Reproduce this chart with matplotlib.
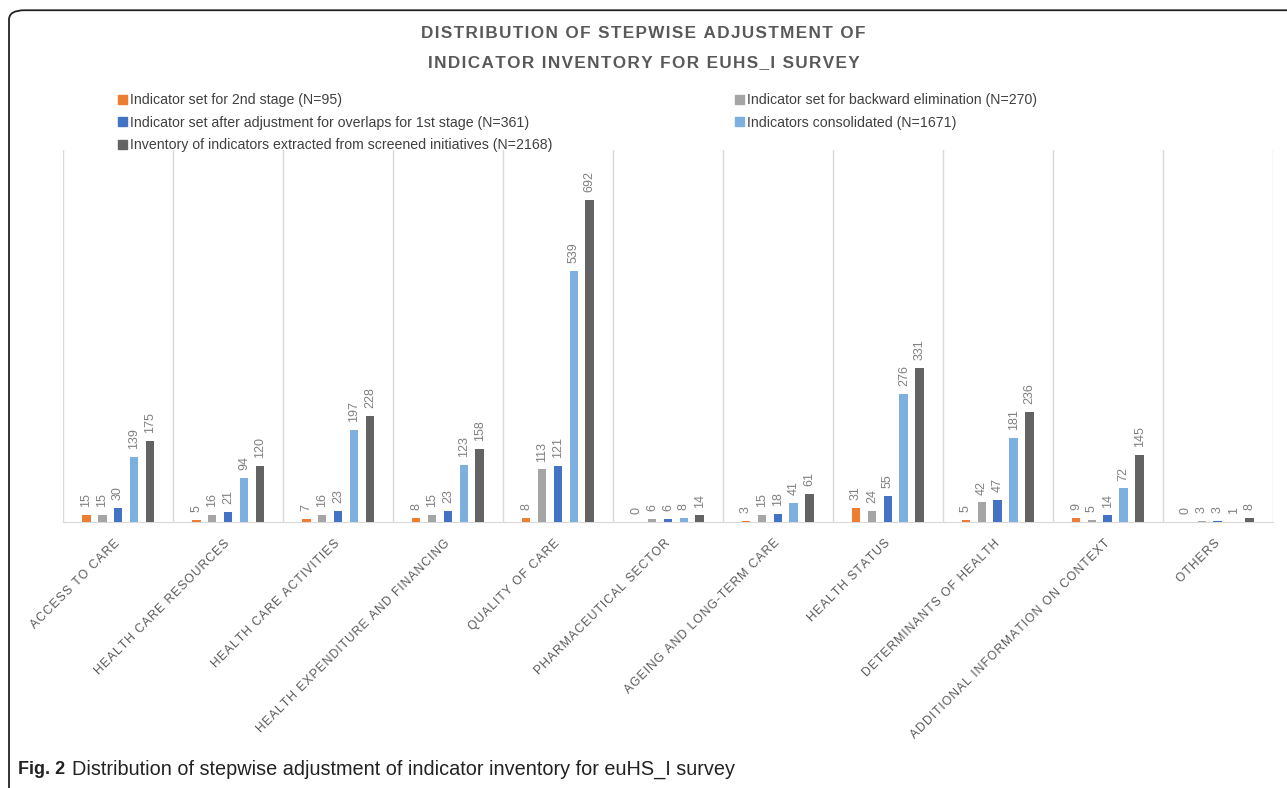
import numpy as np
import matplotlib.pyplot as plt
from matplotlib.patches import FancyBboxPatch, Patch

plt.rcParams['font.family'] = ['Liberation Sans', 'DejaVu Sans']

# data
categories = ['ACCESS TO CARE', 'HEALTH CARE RESOURCES', 'HEALTH CARE ACTIVITIES',
              'HEALTH EXPENDITURE AND FINANCING', 'QUALITY OF CARE', 'PHARMACEUTICAL SECTOR',
              'AGEING AND LONG-TERM CARE', 'HEALTH STATUS', 'DETERMINANTS OF HEALTH',
              'ADDITIONAL INFORMATION ON CONTEXT', 'OTHERS']
stage2 = [15, 5, 7, 8, 8, 0, 3, 31, 5, 9, 0]
backward = [15, 16, 16, 15, 113, 6, 15, 24, 42, 5, 3]
overlaps = [30, 21, 23, 23, 121, 6, 18, 55, 47, 14, 3]
consolidated = [139, 94, 197, 123, 539, 8, 41, 276, 181, 72, 1]
inventory = [175, 120, 228, 158, 692, 14, 61, 331, 236, 145, 8]

series_names = ['Indicator set for 2nd stage (N=95)',
                'Indicator set for backward elimination (N=270)',
                'Indicator set after adjustment for overlaps for 1st stage (N=361)',
                'Indicators consolidated (N=1671)',
                'Inventory of indicators extracted from screened initiatives (N=2168)']
colors = ['#ED7D31', '#A5A5A5', '#4472C4', '#7EB0DF', '#636363']
series = [stage2, backward, overlaps, consolidated, inventory]


def spaced(s):
    # imitate Excel's letter spacing
    return '\u200a'.join(s)


fig = plt.figure(figsize=(12.87, 7.88), dpi=100)
ax = fig.add_axes([0.049, 0.3376, 0.94, 0.472])

x = np.arange(len(categories))
step = 0.145
width = 0.08
for i, (vals, c) in enumerate(zip(series, colors)):
    pos = x + (i - 2) * step
    ax.bar(pos, vals, width=width, color=c, zorder=3)
    for p, v in zip(pos, vals):
        ax.text(p, v + 17, str(v), rotation=90, ha='center', va='bottom',
                fontsize=9, color='#808080')

ax.set_xlim(-0.5, len(categories) - 0.5)
ax.set_ylim(0, 800)
ax.set_yticks([])
ax.set_xticks(x)
ax.set_xticklabels([spaced(c) for c in categories], rotation=45, ha='right',
                   va='center', rotation_mode='anchor', fontsize=8.7, color='#595959')
ax.tick_params(axis='x', length=0, pad=14)
for b in np.arange(-0.5, len(categories) + 0.5, 1.0):
    ax.axvline(b, color='#d9d9d9', lw=1, zorder=1)
for s in ['top', 'right', 'left']:
    ax.spines[s].set_visible(False)
ax.spines['bottom'].set_color('#d9d9d9')

fig.text(0.5, 0.958, spaced('DISTRIBUTION OF STEPWISE ADJUSTMENT OF'), ha='center', va='center',
         fontsize=12.3, fontweight='bold', color='#595959')
fig.text(0.5, 0.921, spaced('INDICATOR INVENTORY FOR EUHS_I SURVEY'), ha='center', va='center',
         fontsize=12.3, fontweight='bold', color='#595959')

order = [0, 2, 4, 1, 3]
handles = [Patch(color=colors[k]) for k in order]
labels = [series_names[k] for k in order]
fig.legend(handles, labels, ncol=2, loc='upper left', bbox_to_anchor=(0.082, 0.898),
           frameon=False, fontsize=10.2, handlelength=0.6, handleheight=0.6,
           handletextpad=0.2, columnspacing=12.95, labelspacing=0.6,
           labelcolor='#404040')

fig.add_artist(FancyBboxPatch((0.007, -0.05), 1.05, 1.037, boxstyle='round,pad=0,rounding_size=0.012',
                              transform=fig.transFigure, fill=False, ec='#222222', lw=1.3))
fig.text(0.014, 0.024, 'Fig. 2', fontsize=13, fontweight='bold', color='#222222', va='center')
fig.text(0.056, 0.024, 'Distribution of stepwise adjustment of indicator inventory for euHS_I survey',
         fontsize=14.3, color='#222222', va='center')

fig.savefig('out.png', dpi=100)
